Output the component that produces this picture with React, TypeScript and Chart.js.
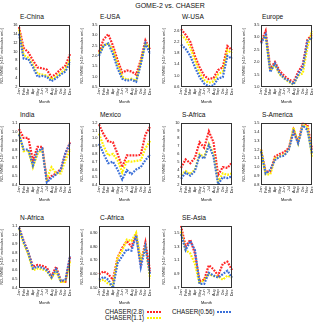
import React, { useEffect, useRef } from "react";
import { Chart, registerables } from "chart.js";

Chart.register(...registerables);

const MONTHS = ["Jan", "Feb", "Mar", "Apr", "May", "Jun", "Jul", "Aug", "Sep", "Oct", "Nov", "Dec"];
const SERIES_NAMES = ["CHASER(2.8)", "CHASER(1.1)", "CHASER(0.56)"];
const SERIES_COLORS = ["#ff2424", "#fff000", "#3a6fd8"];

const eChina28 = [15.5, 10.8, 9.8, 8.0, 6.4, 6.2, 5.9, 4.2, 5.0, 6.0, 6.8, 9.4];
const eChina11 = [15.0, 9.2, 8.6, 7.0, 5.0, 4.8, 4.6, 3.7, 4.4, 5.2, 6.0, 8.2];
const eChina056 = [14.0, 8.4, 8.3, 6.5, 4.3, 4.5, 4.3, 3.3, 4.0, 4.8, 5.5, 7.6];

const eUsa28 = [2.2, 2.8, 3.05, 2.5, 1.8, 1.2, 1.3, 1.25, 1.1, 1.8, 2.75, 2.3];
const eUsa11 = [2.1, 2.5, 2.6, 2.3, 1.6, 1.0, 0.85, 0.9, 0.8, 1.7, 2.6, 2.4];
const eUsa056 = [2.0, 2.5, 2.6, 2.1, 1.4, 0.9, 0.8, 0.85, 0.75, 1.6, 2.6, 2.1];

const wUsa28 = [2.65, 2.45, 2.2, 1.7, 1.3, 1.0, 0.88, 0.92, 1.2, 1.3, 2.05, 1.9];
const wUsa11 = [2.45, 2.3, 2.0, 1.55, 1.1, 0.85, 0.75, 0.8, 1.05, 1.15, 1.9, 1.8];
const wUsa056 = [2.1, 1.95, 1.7, 1.3, 0.95, 0.72, 0.62, 0.65, 0.9, 0.95, 1.7, 1.6];

const europe28 = [2.8, 3.25, 1.75, 2.0, 1.65, 1.45, 1.3, 1.2, 1.6, 1.9, 2.9, 3.1];
const europe11 = [2.9, 3.05, 1.65, 1.9, 1.5, 1.35, 1.2, 1.1, 1.45, 1.55, 2.6, 3.25];
const europe056 = [2.75, 3.1, 1.6, 1.95, 1.55, 1.35, 1.25, 1.1, 1.5, 1.8, 2.85, 3.0];

const india28 = [1.03, 0.93, 0.93, 0.68, 0.83, 0.83, 0.45, 0.5, 0.53, 0.58, 0.75, 0.88];
const india11 = [0.98, 0.78, 0.79, 0.6, 0.75, 0.8, 0.47, 0.6, 0.53, 0.53, 0.68, 0.8];
const india056 = [0.97, 0.8, 0.8, 0.62, 0.78, 0.81, 0.43, 0.48, 0.52, 0.57, 0.76, 0.87];

const mexico28 = [1.18, 1.05, 0.96, 0.95, 0.8, 0.63, 0.78, 0.78, 0.78, 0.79, 1.05, 1.15];
const mexico11 = [1.06, 0.9, 0.78, 0.8, 0.72, 0.56, 0.71, 0.7, 0.71, 0.72, 0.87, 0.97];
const mexico056 = [0.93, 0.8, 0.68, 0.7, 0.6, 0.47, 0.59, 0.54, 0.6, 0.63, 0.72, 0.79];

const sAfrica28 = [4.2, 5.3, 4.8, 5.5, 7.5, 6.8, 8.9, 7.5, 3.3, 4.3, 4.2, 4.9];
const sAfrica11 = [3.3, 3.8, 3.4, 4.0, 6.0, 5.6, 7.3, 6.0, 2.4, 3.5, 3.3, 3.5];
const sAfrica056 = [2.8, 3.6, 3.2, 3.8, 5.8, 5.4, 7.1, 5.7, 2.1, 3.0, 2.9, 3.1];

const sAmerica28 = [1.2, 0.95, 0.95, 1.12, 1.15, 1.17, 1.22, 1.42, 1.28, 1.5, 1.48, 1.2];
const sAmerica11 = [1.2, 0.92, 0.92, 1.1, 1.12, 1.14, 1.2, 1.45, 1.27, 1.48, 1.45, 1.12];
const sAmerica056 = [1.18, 0.93, 0.97, 1.08, 1.12, 1.13, 1.2, 1.4, 1.27, 1.47, 1.42, 1.15];

const nAfrica28 = [1.08, 0.93, 0.8, 0.64, 0.66, 0.65, 0.63, 0.53, 0.64, 0.48, 0.47, 0.75];
const nAfrica11 = [1.07, 0.9, 0.78, 0.6, 0.62, 0.61, 0.59, 0.51, 0.59, 0.47, 0.47, 0.7];
const nAfrica056 = [1.08, 0.92, 0.8, 0.62, 0.64, 0.63, 0.6, 0.52, 0.61, 0.48, 0.49, 0.76];

const cAfrica28 = [0.6, 0.62, 0.6, 0.56, 0.72, 0.79, 0.84, 0.8, 0.89, 0.68, 0.83, 0.62];
const cAfrica11 = [0.55, 0.56, 0.53, 0.52, 0.72, 0.77, 0.85, 0.84, 0.9, 0.7, 0.8, 0.57];
const cAfrica056 = [0.56, 0.58, 0.56, 0.5, 0.68, 0.73, 0.78, 0.77, 0.88, 0.65, 0.8, 0.6];

const seAsia28 = [1.6, 1.3, 1.4, 1.2, 0.8, 0.82, 1.03, 0.97, 0.88, 1.05, 1.08, 0.96];
const seAsia11 = [1.52, 1.25, 1.2, 1.05, 0.76, 0.82, 0.9, 0.87, 0.87, 0.82, 0.88, 0.85];
const seAsia056 = [1.48, 1.25, 1.38, 1.25, 0.76, 0.76, 0.92, 0.88, 0.85, 0.9, 0.95, 0.85];

const REGION_NAMES = ["E-China", "E-USA", "W-USA", "Europe", "India", "Mexico", "S-Africa", "S-America", "N-Africa", "C-Africa", "SE-Asia"];
const Y_MIN = [2, 0.5, 0.6, 1, 0.4, 0.4, 2, 0.8, 0.4, 0.5, 0.7];
const Y_MAX = [16, 3.5, 2.8, 3.5, 1.1, 1.2, 10, 1.5, 1.1, 0.95, 1.6];
const Y_STEP = [2, 0.5, 0.2, 0.5, 0.1, 0.1, 1, 0.1, 0.1, 0.05, 0.1];
const REGION_SERIES = [
  [eChina28, eChina11, eChina056],
  [eUsa28, eUsa11, eUsa056],
  [wUsa28, wUsa11, wUsa056],
  [europe28, europe11, europe056],
  [india28, india11, india056],
  [mexico28, mexico11, mexico056],
  [sAfrica28, sAfrica11, sAfrica056],
  [sAmerica28, sAmerica11, sAmerica056],
  [nAfrica28, nAfrica11, nAfrica056],
  [cAfrica28, cAfrica11, cAfrica056],
  [seAsia28, seAsia11, seAsia056],
];

const Y_TITLE = "NO\u2082 RMSE [\u00d710\u00b9\u2075 molecules cm\u207b\u00b2]";
const FONT = "Arial, 'Liberation Sans', sans-serif";

const COL_LEFT = [19, 99, 181, 261];
const ROW_TOP = [23, 121, 224];
const FRAME_W = 54;
const FRAME_H = 64;
const AXIS_W = 19;
const AXIS_H = 17;
const PAD_T = 2;
const PAD_R = 3;

const framePlugin = {
  id: "frame",
  afterDraw(chart: any) {
    const { ctx, chartArea } = chart;
    ctx.save();
    ctx.strokeStyle = "#333";
    ctx.lineWidth = 1;
    ctx.strokeRect(Math.round(chartArea.left) + 0.5, Math.round(chartArea.top) + 0.5, Math.round(chartArea.right - chartArea.left) - 1, Math.round(chartArea.bottom - chartArea.top) - 1);
    ctx.restore();
  },
};

function Panel({ idx }: { idx: number }) {
  const ref = useRef<HTMLCanvasElement>(null);
  const col = idx % 4;
  const row = Math.floor(idx / 4);
  const left = COL_LEFT[col] - AXIS_W;
  const top = ROW_TOP[row] - PAD_T;
  const w = AXIS_W + FRAME_W + PAD_R;
  const h = PAD_T + FRAME_H + AXIS_H;
  useEffect(() => {
    if (!ref.current) return;
    const series = REGION_SERIES[idx];
    const chart = new Chart(ref.current, {
      type: "line",
      data: {
        labels: MONTHS,
        datasets: [2, 1, 0].map((s) => ({
          label: SERIES_NAMES[s],
          data: series[s],
          borderColor: SERIES_COLORS[s],
          borderWidth: 2.2,
          borderDash: [1.8, 1.2],
          pointRadius: 0,
          tension: 0,
          fill: false,
        })),
      },
      options: {
        animation: false,
        responsive: false,
        devicePixelRatio: 1,
        layout: { padding: { top: PAD_T, right: PAD_R, left: 0, bottom: 0 } },
        plugins: { legend: { display: false }, tooltip: { enabled: false }, title: { display: false } },
        scales: {
          x: {
            grid: { display: false, drawTicks: false },
            border: { display: false },
            ticks: { font: { size: 3.7, family: FONT }, color: "#111", maxRotation: 90, minRotation: 90, autoSkip: false, padding: 1.5 },
            title: { display: true, text: "Month", font: { size: 3.9, family: FONT }, color: "#111", padding: 0 },
            afterFit: (s: any) => { s.height = AXIS_H; },
          },
          y: {
            min: Y_MIN[idx],
            max: Y_MAX[idx],
            grid: { display: false, drawTicks: false },
            border: { display: false },
            ticks: { stepSize: Y_STEP[idx], font: { size: 3.9, family: FONT }, color: "#111", padding: 1.5 },
            title: { display: true, text: Y_TITLE, font: { size: 3.6, family: FONT }, color: "#111", padding: 0 },
            afterFit: (s: any) => { s.width = AXIS_W; },
          },
        },
      },
      plugins: [framePlugin],
    } as any);
    return () => chart.destroy();
  }, [idx]);
  return (
    <>
      <canvas ref={ref} width={w} height={h} style={{ position: "absolute", left, top, width: w, height: h }} />
      <div style={{ position: "absolute", left: COL_LEFT[col] + 1, top: ROW_TOP[row] - 10, font: `6.6px ${FONT}`, color: "#111", whiteSpace: "nowrap" }}>
        {REGION_NAMES[idx]}
      </div>
    </>
  );
}

function LegendItem({ name, color, x, y, lineX }: { name: string; color: string; x: number; y: number; lineX: number }) {
  return (
    <>
      <div style={{ position: "absolute", left: x, top: y - 4, font: `6.3px ${FONT}`, color: "#111", whiteSpace: "nowrap", lineHeight: "8px" }}>{name}</div>
      <div style={{ position: "absolute", left: lineX, top: y - 1, width: 14, height: 2, background: `repeating-linear-gradient(90deg, ${color} 0 1.8px, transparent 1.8px 3px)` }} />
    </>
  );
}

export default function App() {
  return (
    <div style={{ position: "fixed", left: 0, top: 0, width: 320, height: 323, background: "#fff", overflow: "hidden" }}>
      <div style={{ position: "absolute", left: 0, width: 340, top: 2, textAlign: "center", font: `7px ${FONT}`, color: "#111" }}>GOME-2 vs. CHASER</div>
      {REGION_NAMES.map((_, i) => (
        <Panel key={i} idx={i} />
      ))}
      <LegendItem name={SERIES_NAMES[0]} color={SERIES_COLORS[0]} x={105} y={312} lineX={147} />
      <LegendItem name={SERIES_NAMES[1]} color={SERIES_COLORS[1]} x={105} y={318} lineX={147} />
      <LegendItem name={SERIES_NAMES[2]} color={SERIES_COLORS[2]} x={172} y={312} lineX={217} />
    </div>
  );
}
